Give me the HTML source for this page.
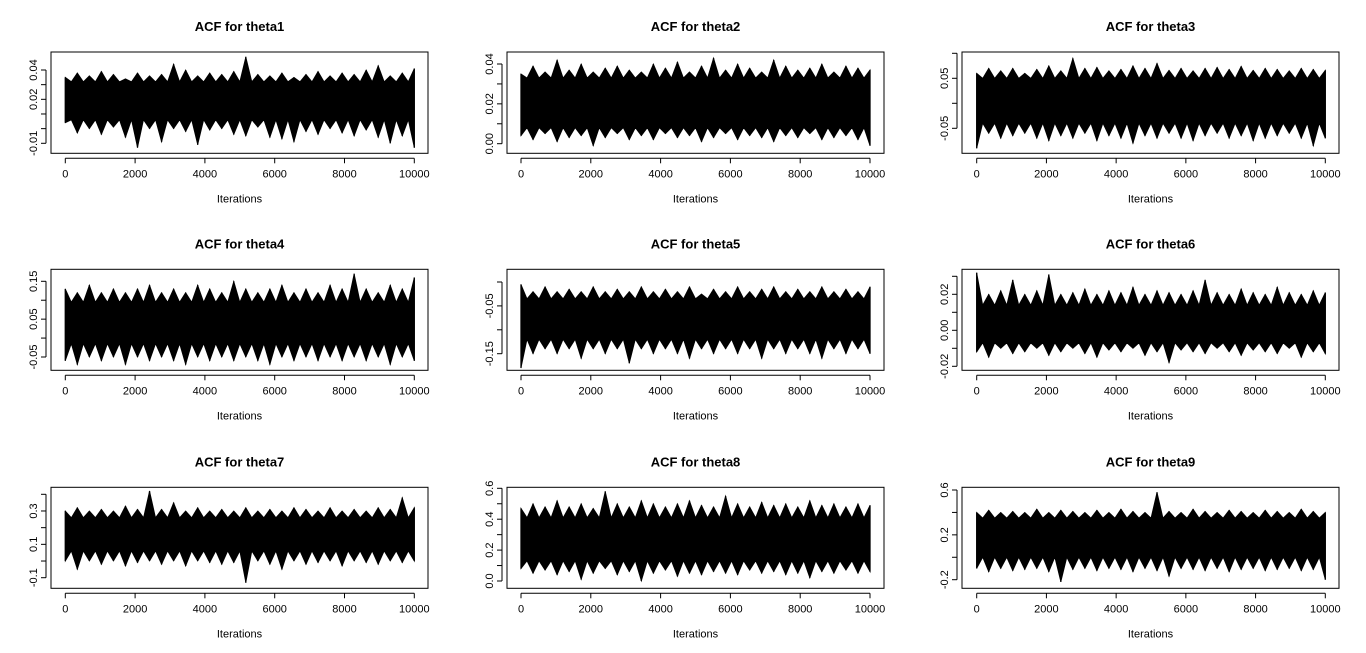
<!DOCTYPE html>
<html><head><meta charset="utf-8">
<style>
html,body{margin:0;padding:0;background:#fff;}
svg{display:block;font-family:"Liberation Sans",Arial,sans-serif;}
</style></head>
<body>
<svg id="chart" width="1366" height="653" viewBox="0 0 1366 653" xmlns="http://www.w3.org/2000/svg"></svg>
<script>
// ---- data ----
const titles = ["ACF for theta1","ACF for theta2","ACF for theta3","ACF for theta4","ACF for theta5","ACF for theta6","ACF for theta7","ACF for theta8","ACF for theta9"];
const xTickValues = [0,2000,4000,6000,8000,10000];
const xMax = 10000;
const yTickValues = [
 [-0.01,0.00,0.01,0.02,0.03,0.04],
 [0.00,0.01,0.02,0.03,0.04],
 [-0.05,0.00,0.05,0.10],
 [-0.05,0.00,0.05,0.10,0.15],
 [-0.15,-0.10,-0.05,0.00],
 [-0.02,-0.01,0.00,0.01,0.02,0.03],
 [-0.1,0.0,0.1,0.2,0.3,0.4],
 [0.0,0.1,0.2,0.3,0.4,0.5,0.6],
 [-0.2,0.0,0.2,0.4,0.6]
];
const yTickLabels = [
 ["-0.01","","","0.02","","0.04"],
 ["0.00","","0.02","","0.04"],
 ["-0.05","","0.05",""],
 ["-0.05","","0.05","","0.15"],
 ["-0.15","","-0.05",""],
 ["-0.02","","0.00","","0.02",""],
 ["-0.1","","0.1","","0.3",""],
 ["0.0","","0.2","","0.4","","0.6"],
 ["-0.2","","0.2","","0.6"]
];
const coreLow  = [0.006,0.008,-0.04,-0.015,-0.12,-0.007,0.06,0.13,0.0];
const coreHigh = [0.032,0.033,0.05,0.095,-0.035,0.014,0.26,0.41,0.35];
const tops1=[0.035,0.038,0.036,0.039,0.037,0.034,0.038,0.036,0.037,0.044,0.040,0.036,0.038,0.037,0.039,0.049,0.037,0.036,0.038,0.035,0.037,0.039,0.036,0.038,0.037,0.040,0.043,0.036,0.038,0.041];
const bots1=[0.004,-0.003,0.000,-0.004,0.001,-0.006,-0.013,0.000,-0.009,0.000,-0.002,-0.011,-0.001,0.000,-0.004,-0.005,0.001,-0.006,-0.007,-0.009,-0.002,-0.004,0.000,-0.003,-0.005,-0.001,-0.006,-0.010,-0.005,-0.013];
const tops2=[0.035,0.039,0.036,0.042,0.037,0.040,0.036,0.038,0.039,0.037,0.036,0.040,0.038,0.041,0.036,0.039,0.043,0.037,0.040,0.038,0.036,0.042,0.039,0.037,0.038,0.040,0.036,0.039,0.038,0.037];
const bots2=[0.004,0.002,0.005,0.001,0.003,0.004,-0.001,0.003,0.005,0.002,0.004,0.002,0.005,0.003,0.004,0.001,0.003,0.005,0.002,0.004,0.003,0.001,0.004,0.003,0.005,0.002,0.003,0.004,0.002,-0.001];
const tops3=[0.06,0.07,0.065,0.07,0.06,0.068,0.075,0.065,0.09,0.07,0.072,0.065,0.068,0.075,0.07,0.08,0.066,0.07,0.065,0.07,0.072,0.068,0.074,0.066,0.07,0.068,0.065,0.07,0.068,0.066];
const bots3=[-0.09,-0.06,-0.07,-0.065,-0.06,-0.07,-0.075,-0.065,-0.07,-0.06,-0.075,-0.065,-0.07,-0.08,-0.065,-0.07,-0.06,-0.07,-0.075,-0.065,-0.06,-0.07,-0.065,-0.075,-0.07,-0.065,-0.06,-0.07,-0.085,-0.07];
const tops4=[0.13,0.12,0.14,0.12,0.13,0.12,0.13,0.14,0.12,0.13,0.12,0.14,0.13,0.12,0.15,0.13,0.12,0.13,0.14,0.12,0.13,0.12,0.14,0.13,0.17,0.13,0.12,0.14,0.13,0.16];
const bots4=[-0.06,-0.07,-0.05,-0.06,-0.05,-0.07,-0.05,-0.06,-0.05,-0.06,-0.07,-0.05,-0.06,-0.05,-0.06,-0.05,-0.06,-0.07,-0.05,-0.06,-0.05,-0.06,-0.05,-0.06,-0.05,-0.06,-0.05,-0.07,-0.05,-0.06];
const tops5=[-0.005,-0.02,-0.01,-0.02,-0.015,-0.02,-0.01,-0.02,-0.015,-0.02,-0.01,-0.02,-0.015,-0.02,-0.01,-0.025,-0.015,-0.02,-0.01,-0.02,-0.015,-0.01,-0.02,-0.015,-0.02,-0.01,-0.02,-0.015,-0.02,-0.01];
const bots5=[-0.18,-0.15,-0.14,-0.15,-0.14,-0.16,-0.14,-0.15,-0.14,-0.17,-0.14,-0.15,-0.14,-0.15,-0.16,-0.14,-0.15,-0.14,-0.15,-0.14,-0.16,-0.14,-0.15,-0.14,-0.15,-0.16,-0.14,-0.15,-0.14,-0.15];
const tops6=[0.032,0.02,0.022,0.028,0.02,0.022,0.031,0.02,0.021,0.023,0.02,0.022,0.021,0.024,0.02,0.022,0.021,0.02,0.022,0.028,0.021,0.02,0.023,0.021,0.02,0.024,0.021,0.02,0.022,0.021];
const bots6=[-0.012,-0.015,-0.01,-0.013,-0.012,-0.01,-0.014,-0.012,-0.01,-0.013,-0.015,-0.011,-0.012,-0.01,-0.014,-0.012,-0.018,-0.011,-0.012,-0.013,-0.01,-0.012,-0.014,-0.011,-0.012,-0.013,-0.01,-0.015,-0.012,-0.013];
const tops7=[0.3,0.32,0.3,0.31,0.3,0.33,0.31,0.42,0.31,0.35,0.3,0.32,0.3,0.31,0.3,0.32,0.3,0.31,0.3,0.32,0.31,0.3,0.32,0.3,0.31,0.3,0.32,0.31,0.38,0.32];
const bots7=[0.0,-0.05,0.0,-0.02,0.0,-0.03,-0.01,0.0,-0.02,0.0,-0.03,0.0,-0.01,-0.02,-0.01,-0.13,0.0,-0.02,-0.05,0.0,-0.02,-0.01,0.0,-0.03,0.0,-0.01,-0.02,0.0,-0.01,0.0];
const tops8=[0.47,0.5,0.48,0.52,0.48,0.5,0.47,0.58,0.5,0.48,0.52,0.5,0.48,0.5,0.52,0.49,0.48,0.55,0.5,0.48,0.51,0.49,0.5,0.48,0.52,0.49,0.5,0.48,0.5,0.49];
const bots8=[0.08,0.05,0.07,0.04,0.06,0.01,0.05,0.08,0.04,0.06,0.0,0.05,0.07,0.03,0.05,0.04,0.06,0.05,0.04,0.07,0.05,0.06,0.04,0.05,0.02,0.06,0.05,0.07,0.05,0.06];
const tops9=[0.4,0.42,0.4,0.41,0.4,0.43,0.4,0.42,0.41,0.4,0.42,0.4,0.43,0.41,0.4,0.58,0.41,0.4,0.43,0.41,0.4,0.42,0.41,0.4,0.42,0.41,0.4,0.43,0.41,0.4];
const bots9=[-0.1,-0.13,-0.1,-0.12,-0.11,-0.1,-0.13,-0.22,-0.11,-0.1,-0.12,-0.1,-0.11,-0.13,-0.1,-0.12,-0.17,-0.1,-0.11,-0.12,-0.1,-0.13,-0.11,-0.1,-0.12,-0.11,-0.1,-0.12,-0.11,-0.2];
const spikeTops = [tops1,tops2,tops3,tops4,tops5,tops6,tops7,tops8,tops9];
const spikeBots = [bots1,bots2,bots3,bots4,bots5,bots6,bots7,bots8,bots9];

// ---- layout (geometry) ----
const colBox = [[51,428],[507,884],[962,1339]];
const colX = [[65.3,414.3],[521,870],[976.7,1325.3]];
const rowBox = [[52,153.3],[269.3,370.3],[487.3,588.3]];
const tickPixelFirstLast = [[143.3,70],[143.7,64],[128.3,53.3],[357,281.3],[353.7,282],[366.3,276.3],[577.7,494.3],[581,488.3],[579.7,490]];

const NS="http://www.w3.org/2000/svg";
const svg=document.getElementById('chart');
function mk(tag,attrs,parent){const e=document.createElementNS(NS,tag);for(const k in attrs)e.setAttribute(k,attrs[k]);(parent||svg).appendChild(e);return e;}

for(let p=0;p<9;p++){
  const c=p%3, r=Math.floor(p/3);
  const g=mk('g',{});
  
  
  const [bl,br]=colBox[c], [bt,bb]=rowBox[r];
  const [x0,x1]=colX[c];
  const xs=v=>x0+(v/xMax)*(x1-x0);
  const yt=yTickValues[p], [py0,py1]=tickPixelFirstLast[p];
  const ys=v=>py0+(v-yt[0])/(yt[yt.length-1]-yt[0])*(py1-py0);

  const t=mk('text',{x:(bl+br)/2,y:bt-21,'text-anchor':'middle','font-size':'13','font-weight':'bold',fill:'#000'},g);
  t.textContent=titles[p];
  
  

  // trace
  const tr=mk('g',{},g);
  
  
  const tops=spikeTops[p], bots=spikeBots[p], n=tops.length;
  const lo=coreLow[p], hi=coreHigh[p];
  let pts=[];
  for(let i=0;i<n;i++){
    const it=i*xMax/(n-1);
    pts.push(xs(it)+','+ys(tops[i]));
    if(i<n-1){const m=(i+0.5)*xMax/(n-1);pts.push(xs(m)+','+ys(hi));}
  }
  for(let i=n-1;i>=0;i--){
    const it=i*xMax/(n-1);
    if(i<n-1){const m=(i+0.5)*xMax/(n-1);pts.push(xs(m)+','+ys(lo));}
    pts.push(xs(it)+','+ys(bots[i]));
  }
  const poly=mk('polygon',{points:pts.join(' '),fill:'#000',stroke:'#000','stroke-width':'0.8','stroke-linejoin':'miter'},tr);
  
  
  const core=mk('rect',{x:xs(0),y:ys(hi),width:xs(xMax)-xs(0),height:ys(lo)-ys(hi),fill:'#000'},tr);
  
  
  for(let i=0;i<n;i++){
    const it=i*xMax/(n-1);
    const sl=mk('line',{x1:xs(it),x2:xs(it),y1:ys(tops[i]),y2:ys(bots[i]),stroke:'#000','stroke-width':'1.3'},tr);
    
    
  }

  // box
  const box=mk('rect',{x:bl,y:bt,width:br-bl,height:bb-bt,fill:'none',stroke:'#000','stroke-width':'1'},g);
  
  

  // x axis
  const xa=mk('g',{},g);
  
  
  mk('line',{x1:xs(0),x2:xs(xMax),y1:bb+5,y2:bb+5,stroke:'#000','stroke-width':'1'},xa);
  xTickValues.forEach(v=>{
    mk('line',{x1:xs(v),x2:xs(v),y1:bb+5,y2:bb+10,stroke:'#000','stroke-width':'1'},xa);
    const tl=mk('text',{x:xs(v),y:bb+24,'text-anchor':'middle','font-size':'11',fill:'#000'},xa);
    tl.textContent=String(v);
    
    
  });
  const xl=mk('text',{x:(bl+br)/2,y:bb+49,'text-anchor':'middle','font-size':'11',fill:'#000'},g);
  xl.textContent='Iterations';
  
  

  // y axis
  const ya=mk('g',{},g);
  
  
  mk('line',{x1:bl-5,x2:bl-5,y1:ys(yt[0]),y2:ys(yt[yt.length-1]),stroke:'#000','stroke-width':'1'},ya);
  yt.forEach((v,i)=>{
    mk('line',{x1:bl-10,x2:bl-5,y1:ys(v),y2:ys(v),stroke:'#000','stroke-width':'1'},ya);
    const lab=yTickLabels[p][i];
    if(lab){
      const yl=mk('text',{x:0,y:0,'text-anchor':'middle','font-size':'11',fill:'#000',transform:'translate('+(bl-14)+','+ys(v)+') rotate(-90)'},ya);
      yl.textContent=lab;
      
      
    }
  });
}
</script>
</body></html>
